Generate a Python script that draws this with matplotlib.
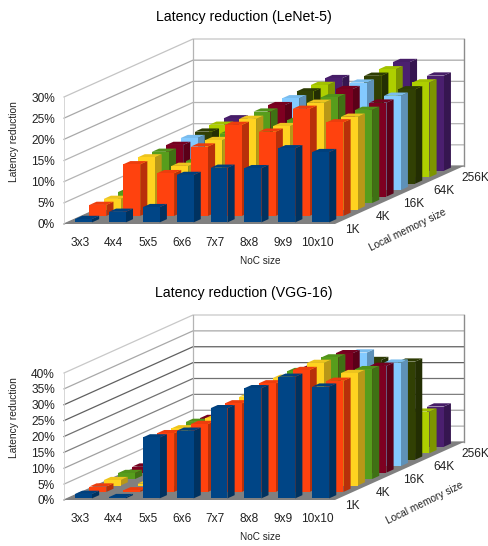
#!/usr/bin/env python
# -*- coding: utf-8

import matplotlib
matplotlib.use('Agg')
import matplotlib.pyplot as plt
import numpy as np
from matplotlib.colors import to_rgb

plt.rcParams['font.family'] = ['Liberation Sans', 'DejaVu Sans']

noc_sizes = ['3x3', '4x4', '5x5', '6x6', '7x7', '8x8', '9x9', '10x10']
memory_sizes = ['1K', '2K', '4K', '8K', '16K', '32K', '64K', '128K', '256K']
memory_labels = ['1K', '', '4K', '', '16K', '', '64K', '', '256K']
colors = ['#004586', '#ff420e', '#ffd320', '#579d1c', '#7e0021',
          '#83caff', '#314004', '#aecf00', '#4b1f6f']

#Latency reduction in percent, one row per local memory size
lenet_1k = [0.8, 2.5, 3.6, 11.2, 12.9, 12.8, 17.5, 16.6]
lenet_2k = [2.6, 12.2, 10.1, 16.4, 21.5, 19.9, 25.3, 22.1]
lenet_4k = [2.5, 12.3, 10.3, 16.4, 21.4, 19.7, 25.2, 21.9]
lenet_8k = [2.6, 12.1, 9.9, 16.4, 21.6, 19.6, 25.0, 22.0]
lenet_16k = [2.6, 12.2, 10.0, 16.4, 21.6, 19.7, 25.4, 22.2]
lenet_32k = [2.6, 12.3, 10.1, 16.5, 21.7, 19.8, 25.4, 22.3]
lenet_64k = [2.6, 12.3, 10.1, 16.5, 21.8, 19.8, 25.5, 22.3]
lenet_128k = [2.7, 12.4, 10.2, 16.6, 21.8, 19.9, 25.5, 22.4]
lenet_256k = [2.7, 12.4, 10.2, 16.6, 21.9, 19.9, 25.7, 22.5]

vgg_1k = [1.4, 0.4, 19.2, 21.3, 28.4, 34.7, 38.3, 35.2]
vgg_2k = [1.7, 0.5, 18.5, 21.4, 27.9, 34.2, 38.4, 35.0]
vgg_4k = [1.7, 0.6, 18.0, 21.2, 28.0, 33.9, 38.6, 35.4]
vgg_8k = [1.9, 0.6, 18.0, 21.0, 28.0, 34.0, 38.3, 34.6]
vgg_16k = [1.9, 0.6, 17.2, 20.5, 27.5, 33.0, 37.6, 33.6]
vgg_32k = [1.5, 0.5, 14.0, 18.0, 24.0, 29.0, 35.8, 32.6]
vgg_64k = [1.2, 0.4, 10.0, 13.0, 19.0, 24.0, 31.4, 30.9]
vgg_128k = [0.8, 0.3, 5.0, 6.0, 8.0, 10.0, 12.0, 13.1]
vgg_256k = [0.6, 0.3, 4.0, 5.0, 7.0, 9.0, 11.0, 12.7]

lenet_values = np.array([lenet_1k, lenet_2k, lenet_4k, lenet_8k, lenet_16k,
                         lenet_32k, lenet_64k, lenet_128k, lenet_256k])
vgg_values = np.array([vgg_1k, vgg_2k, vgg_4k, vgg_8k, vgg_16k,
                       vgg_32k, vgg_64k, vgg_128k, vgg_256k])

FIG_W, FIG_H = 489, 546
AX_LEFT, AX_W, AX_H = 64, 400, 185
CAT_PX = 271 / 8
DEPTH_X_PX, DEPTH_Y_PX = 129 / 9, 58 / 9
WALL_PX = 127


def shade(color, factor):
    return np.clip(np.array(to_rgb(color)) * factor, 0, 1)


def draw_chart(floor_y, values, y_max, title, grid_colors, memory_label_xy):
    fig = plt.figure(1)
    ax = fig.add_axes([AX_LEFT / FIG_W, 1 - floor_y / FIG_H,
                       AX_W / FIG_W, AX_H / FIG_H])
    px_per_pct = WALL_PX / y_max
    ax.set_xlim(0, AX_W / CAT_PX)
    ax.set_ylim(0, AX_H / px_per_pct)
    for spine in ax.spines.values():
        spine.set_visible(False)
    ax.patch.set_alpha(0)

    #Shift of one memory size, in data units
    step_x = DEPTH_X_PX / CAT_PX
    step_y = DEPTH_Y_PX / px_per_pct
    back_x, back_y = 9 * step_x, 9 * step_y

    #Walls
    ticks = np.arange(0, y_max + 1, 5)
    for tick, grid_color in zip(ticks, grid_colors):
        ax.plot([0, back_x, 8 + back_x], [tick, tick + back_y, tick + back_y],
                color=grid_color, lw=0.9, zorder=1, clip_on=False)
    ax.plot([back_x, back_x], [back_y, y_max + back_y], color='#b4b4b4', lw=0.9, zorder=1)
    ax.plot([8 + back_x, 8 + back_x], [back_y, y_max + back_y], color='#8c8c8c', lw=1.0, zorder=1, clip_on=False)
    ax.plot([0, 0], [0, y_max], color='#d0d0d0', lw=0.6, zorder=1)

    #Floor
    ax.fill([0, 8, 8 + back_x, back_x], [0, 0, back_y, back_y], color='#808080', lw=0, zorder=2)

    #Bars, back row first so that the front rows cover them
    bar_w, bar_d = 0.5, 0.5
    order = 3
    for row in range(values.shape[0] - 1, -1, -1):
        color = colors[row]
        for col in range(values.shape[1]):
            v = values[row, col]
            x0 = col + 0.22 + (row + 0.25) * step_x
            y0 = (row + 0.25) * step_y
            x1 = x0 + bar_w
            sx = bar_d * step_x
            sy = bar_d * step_y
            ax.fill([x1, x1 + sx, x1 + sx, x1], [y0, y0 + sy, y0 + sy + v, y0 + v],
                    color=shade(color, 0.72), lw=0, zorder=order)
            ax.fill([x0, x1, x1 + sx, x0 + sx], [y0 + v, y0 + v, y0 + v + sy, y0 + v + sy],
                    color=shade(color, 0.93), lw=0, zorder=order)
            ax.fill([x0, x1, x1, x0], [y0, y0, y0 + v, y0 + v],
                    color=color, lw=0, zorder=order)
        order += 1

    ax.set_xticks(np.arange(len(noc_sizes)) + 0.47)
    ax.set_xticklabels(noc_sizes, fontsize=8.6, color='#222222')
    ax.set_yticks(ticks)
    ax.set_yticklabels(['%d%%' % t for t in ticks], fontsize=8.6, color='#222222')
    ax.tick_params(axis='x', length=0, pad=9)
    ax.tick_params(axis='y', length=0, pad=6.5)

    #Memory size labels along the right floor edge
    for row, label in enumerate(memory_labels):
        if label:
            ax.annotate(label, xy=(8 + (row + 0.5) * step_x, (row + 0.5) * step_y),
                        xytext=(10 + row, -9), textcoords='offset pixels',
                        fontsize=8.6, ha='center', va='center', color='#222222', annotation_clip=False)

    fig.text(244 / FIG_W, 1 - (floor_y - 207) / FIG_H, title, fontsize=10.2,
             ha='center', va='center', color='black')
    fig.text(260 / FIG_W, 1 - (floor_y + 37) / FIG_H, 'NoC size', fontsize=7.2,
             ha='center', va='center', color='#222222')
    fig.text(14 / FIG_W, 1 - (floor_y - 82) / FIG_H, 'Latency reduction', fontsize=7.4,
             rotation=90, ha='center', va='center', color='#222222')
    fig.text(memory_label_xy[0] / FIG_W, 1 - memory_label_xy[1] / FIG_H, 'Local memory size',
             fontsize=7.3, rotation=26, rotation_mode='anchor', ha='center', va='center', color='#222222')


fig = plt.figure(1, figsize=(FIG_W / 100, FIG_H / 100), dpi=100)
draw_chart(224, lenet_values, 30, 'Latency reduction (LeNet-5)',
           ['#808080', '#b4b4b4', '#b4b4b4', '#b4b4b4', '#a8a8a8', '#a8a8a8', '#c4c4c4'], (408, 230))
draw_chart(500, vgg_values, 40, 'Latency reduction (VGG-16)',
           ['#808080', '#b0b0b0', '#a0a0a0', '#808080', '#707070', '#606060', '#606060', '#a8a8a8', '#c8c8c8'], (425, 503))
fig.savefig('out.png', dpi=100)
